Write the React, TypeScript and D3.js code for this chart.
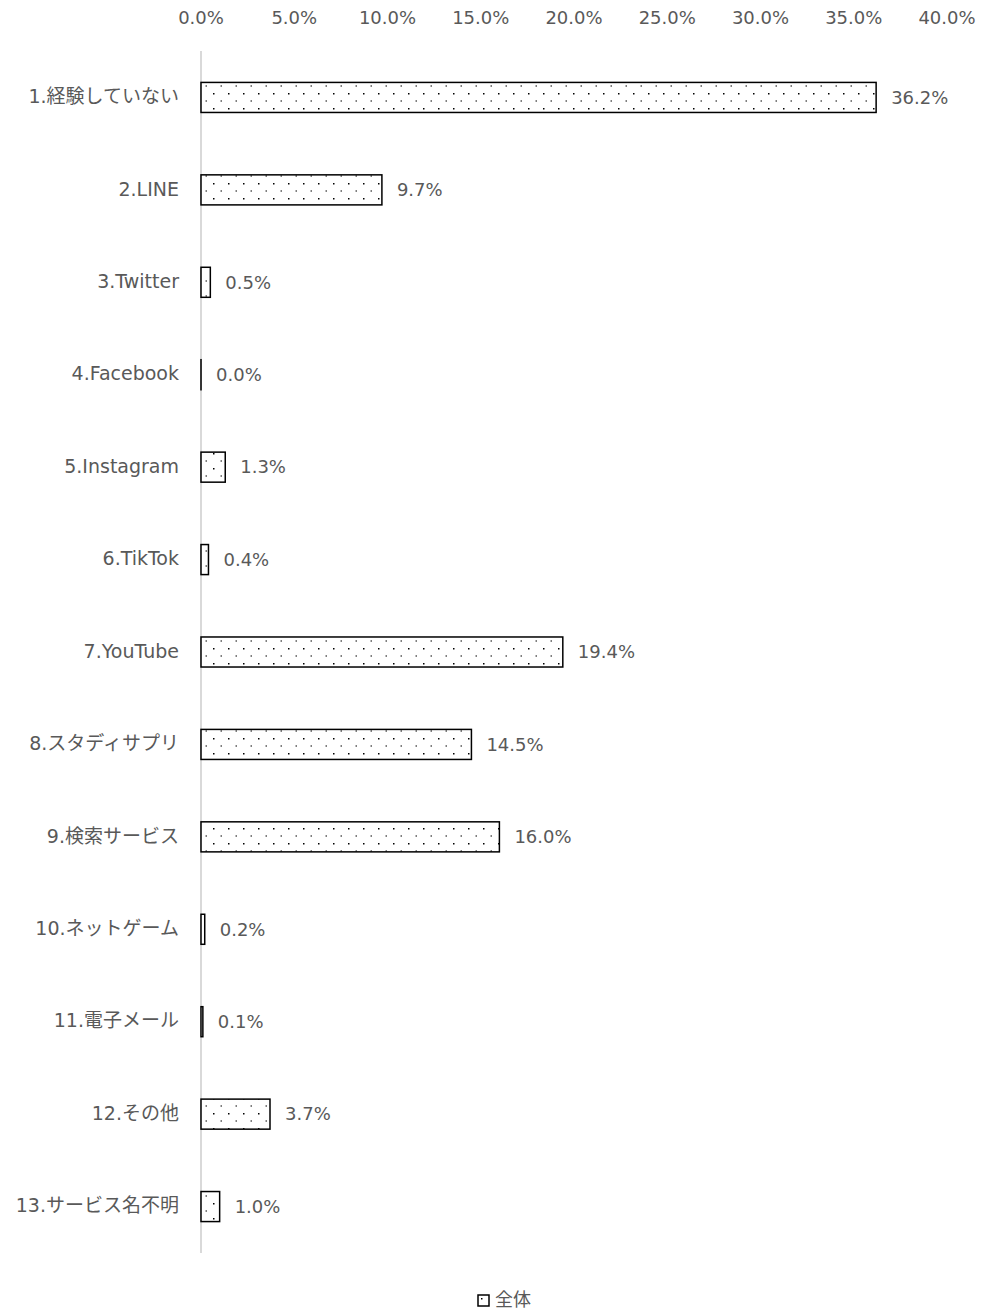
import React, { useEffect, useRef } from 'react';
import * as d3 from 'd3';

// categories and values (percent)
const categories = [
  '1.経験していない',
  '2.LINE',
  '3.Twitter',
  '4.Facebook',
  '5.Instagram',
  '6.TikTok',
  '7.YouTube',
  '8.スタディサプリ',
  '9.検索サービス',
  '10.ネットゲーム',
  '11.電子メール',
  '12.その他',
  '13.サービス名不明',
];
const values = [36.2, 9.7, 0.5, 0.0, 1.3, 0.4, 19.4, 14.5, 16.0, 0.2, 0.1, 3.7, 1.0];
const xTicks = [0, 5, 10, 15, 20, 25, 30, 35, 40];
const seriesName = '全体';

const W = 985;
const H = 1311;
const FONT = '"DejaVu Sans", "Noto Sans CJK JP", sans-serif';
const TEXT = '#595959';

const App: React.FC = () => {
  const svgRef = useRef<SVGSVGElement | null>(null);

  useEffect(() => {
    if (!svgRef.current) return;
    const svg = d3.select(svgRef.current);
    svg.selectAll('*').remove();

    const x = d3.scaleLinear().domain([0, 40]).range([201, 947]);
    const y = d3.scaleBand<string>()
      .domain(categories)
      .range([51, 1253])
      .paddingInner(0.675)
      .paddingOuter(0.34);

    // dotted fill pattern
    const defs = svg.append('defs');
    const pat = defs.append('pattern')
      .attr('id', 'dots')
      .attr('patternUnits', 'userSpaceOnUse')
      .attr('width', 15)
      .attr('height', 15);
    pat.append('rect').attr('width', 15).attr('height', 15).attr('fill', '#fff');
    pat.append('rect').attr('x', 3).attr('y', 3).attr('width', 1.5).attr('height', 1.5).attr('fill', '#000');
    pat.append('rect').attr('x', 10.5).attr('y', 10.5).attr('width', 1.5).attr('height', 1).attr('fill', '#000');

    // top axis labels
    svg.append('g')
      .selectAll('text')
      .data(xTicks)
      .enter()
      .append('text')
      .attr('x', d => x(d))
      .attr('y', 24)
      .attr('text-anchor', 'middle')
      .attr('font-family', FONT)
      .attr('font-size', 18)
      .attr('fill', TEXT)
      .text(d => `${d.toFixed(1)}%`);

    // vertical axis line
    svg.append('line')
      .attr('x1', x(0)).attr('x2', x(0))
      .attr('y1', 51).attr('y2', 1253)
      .attr('stroke', '#d9d9d9')
      .attr('stroke-width', 2);

    // bars (zero values still show their outline)
    svg.append('g')
      .selectAll('rect')
      .data(values)
      .enter()
      .append('rect')
      .attr('x', x(0))
      .attr('y', (_, i) => y(categories[i])!)
      .attr('width', d => Math.max(x(d) - x(0), 0.01))
      .attr('height', y.bandwidth())
      .attr('fill', 'url(#dots)')
      .attr('stroke', '#000')
      .attr('stroke-width', 1.5);

    // category labels
    svg.append('g')
      .selectAll('text')
      .data(categories)
      .enter()
      .append('text')
      .attr('x', 179)
      .attr('y', d => y(d)! + y.bandwidth() / 2)
      .attr('dy', '0.3em')
      .attr('text-anchor', 'end')
      .attr('font-family', FONT)
      .attr('font-size', 19)
      .attr('fill', TEXT)
      .text(d => d);

    // value labels
    svg.append('g')
      .selectAll('text')
      .data(values)
      .enter()
      .append('text')
      .attr('x', d => x(d) + 15)
      .attr('y', (_, i) => y(categories[i])! + y.bandwidth() / 2)
      .attr('dy', '0.35em')
      .attr('font-family', FONT)
      .attr('font-size', 18)
      .attr('fill', TEXT)
      .text(d => `${d.toFixed(1)}%`);

    // legend
    const lg = svg.append('g').attr('transform', 'translate(478, 1295)');
    lg.append('rect')
      .attr('x', 0).attr('y', 0)
      .attr('width', 11).attr('height', 11)
      .attr('fill', 'url(#dots)')
      .attr('stroke', '#000')
      .attr('stroke-width', 1.5);
    lg.append('text')
      .attr('x', 17)
      .attr('y', 5)
      .attr('dy', '0.35em')
      .attr('font-family', FONT)
      .attr('font-size', 18)
      .attr('fill', TEXT)
      .text(seriesName);
  }, []);

  return (
    <svg
      ref={svgRef}
      width={W}
      height={H}
      style={{ display: 'block', position: 'absolute', left: 0, top: 0, background: '#fff' }}
    />
  );
};

export default App;
